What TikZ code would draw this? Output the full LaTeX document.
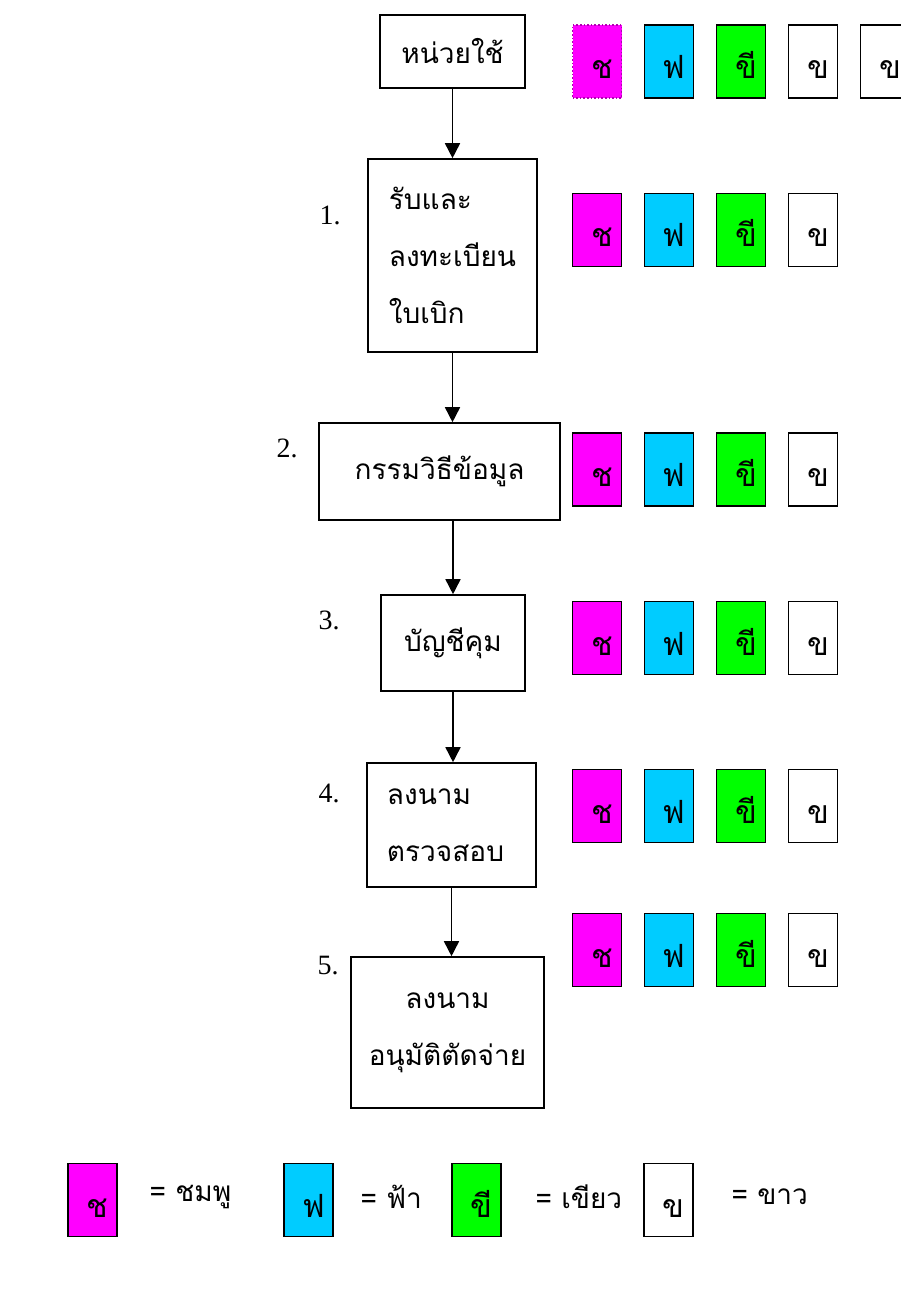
\documentclass[tikz,border=0pt]{standalone}
\usepackage{fontspec}
\setmainfont{Liberation Serif}
\newfontfamily\thaifont[Script=Thai]{Loma}
\usetikzlibrary{arrows.meta}

\definecolor{chompoo}{RGB}{255,0,255}
\definecolor{fah}{RGB}{0,204,255}
\definecolor{khiao}{RGB}{0,255,0}

\tikzset{
  stepbox/.style={draw, line width=1.6pt, inner sep=0pt,
    font=\thaifont\fontsize{28}{57}\selectfont},
  card/.style={draw, line width=1.6pt, minimum width=49pt, minimum height=73pt,
    inner sep=0pt, text height=34pt, text depth=0pt,
    font=\thaifont\fontsize{32}{32}\selectfont},
  numlabel/.style={font=\fontsize{28}{28}\selectfont},
  keytext/.style={anchor=west, font=\thaifont\fontsize{28}{28}\selectfont},
  flow/.style={line width=1.6pt, -{Triangle[length=15pt,width=15pt]}},
}

\begin{document}
\begin{tikzpicture}[x=1pt,y=-1pt]
\useasboundingbox (0,0) rectangle (900,1305);

	% steps
	\node[stepbox, minimum width=145pt, minimum height=73pt] (user) at (452.5,51.5) {หน่วยใช้};
	\node[stepbox, minimum width=169pt, minimum height=193pt, align=left] (s1) at (452.5,255.5) {รับและ\\ลงทะเบียน\\ใบเบิก};
	\node[stepbox, minimum width=241pt, minimum height=97pt] (s2) at (439.5,471.5) {กรรมวิธีข้อมูล};
	\node[stepbox, minimum width=144pt, minimum height=96pt] (s3) at (453,643) {บัญชีคุม};
	\node[stepbox, minimum width=169pt, minimum height=124pt, align=left] (s4) at (451.5,825) {ลงนาม\\ตรวจสอบ\hspace*{12pt}};
	\node[stepbox, minimum width=193pt, minimum height=151pt, align=center] (s5) at (447.5,1032.5) {ลงนาม\\อนุมัติตัดจ่าย};

	\node[numlabel] (n1) at (330,215) {1.};
	\node[numlabel] (n2) at (287,448) {2.};
	\node[numlabel] (n3) at (329,620) {3.};
	\node[numlabel] (n4) at (329,793) {4.};
	\node[numlabel] (n5) at (328,966) {5.};

	\draw[flow] (user) -- (user |- s1.north);
	\draw[flow] (s1) -- (s1 |- s2.north);
	\draw[flow] (s3 |- s2.south) -- (s3);
	\draw[flow] (s3) -- (s3 |- s4.north);
	\draw[flow] (s4) -- (s4 |- s5.north);

	% copies sent with each step
	\node[card, fill=chompoo, draw=chompoo!70!black, dotted] (c0a) at (597,61.5) {\hspace*{10pt}ช};
	\node[card, fill=fah] (c0b) at (669,61.5) {\hspace*{10pt}ฟ};
	\node[card, fill=khiao] (c0c) at (741,61.5) {\hspace*{10pt}ขี};
	\node[card] (c0d) at (813,61.5) {\hspace*{10pt}ข};
	\node[card] (c0e) at (885,61.5) {\hspace*{10pt}ข};
	\foreach \y [count=\r] in {230,469.5,638,806,950} {
		\node[card, fill=chompoo] (c\r a) at (597,\y) {\hspace*{10pt}ช};
		\node[card, fill=fah] (c\r b) at (669,\y) {\hspace*{10pt}ฟ};
		\node[card, fill=khiao] (c\r c) at (741,\y) {\hspace*{10pt}ขี};
		\node[card] (c\r d) at (813,\y) {\hspace*{10pt}ข};
	}

	% colour key
	\node[card, fill=chompoo] (k1) at (92.5,1200) {\hspace*{10pt}ช};
	\node[keytext] (t1) at (146,1197) {= ชมพู};
	\node[card, fill=fah] (k2) at (308.5,1200) {\hspace*{10pt}ฟ};
	\node[keytext] (t2) at (357,1197) {= ฟ้า};
	\node[card, fill=khiao] (k3) at (476.5,1200) {\hspace*{10pt}ขี};
	\node[keytext] (t3) at (532,1197) {= เขียว};
	\node[card] (k4) at (668.5,1200) {\hspace*{10pt}ข};
	\node[keytext] (t4) at (728,1197) {= ขาว};

\end{tikzpicture}
\end{document}
